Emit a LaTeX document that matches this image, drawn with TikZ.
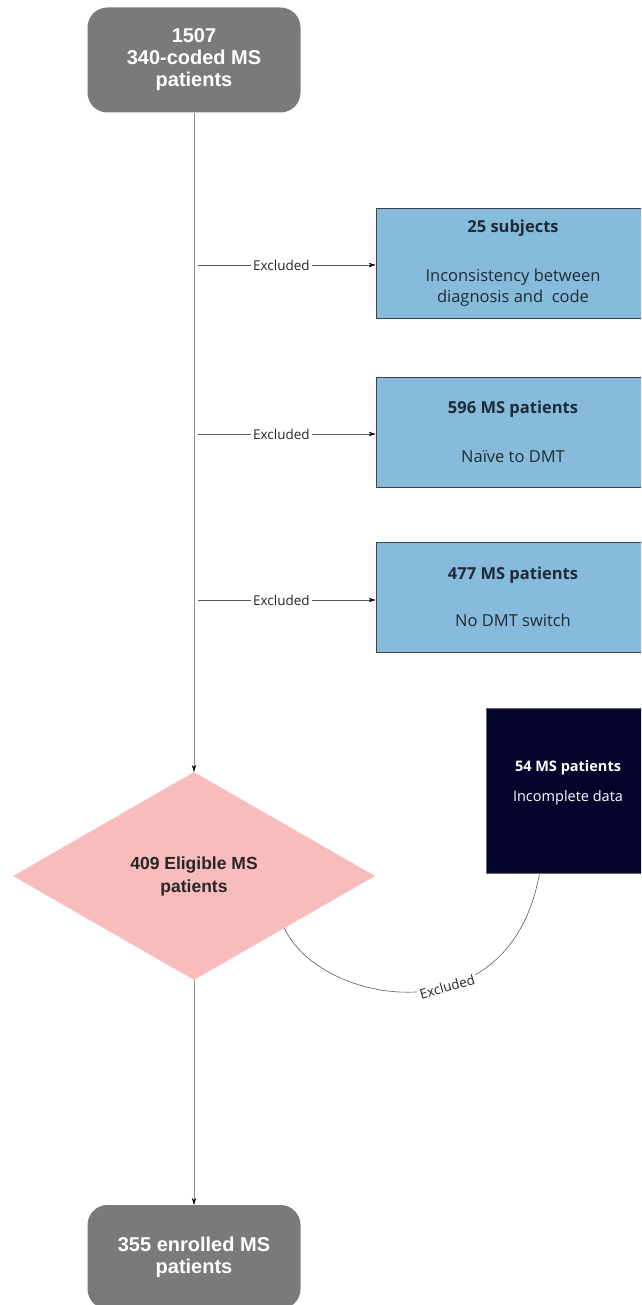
\documentclass[tikz,border=0pt]{standalone}
\usepackage{fontspec}
\setmainfont{Open Sans}
\newfontfamily\arialfont{Liberation Sans}
\usepackage{tikz}
\usetikzlibrary{arrows.meta,shapes.geometric}
\definecolor{boxgray}{HTML}{7A7A7A}
\definecolor{exblue}{HTML}{86BBDB}
\definecolor{exborder}{HTML}{3B4650}
\definecolor{eligpink}{HTML}{F8BCBD}
\definecolor{navybox}{HTML}{04042C}
\definecolor{flowline}{HTML}{8C8C8C}
\definecolor{txtdark}{HTML}{1E2B36}

\tikzset{
  graybox/.style={rectangle, rounded corners=20pt, fill=boxgray, text=white, align=center,
    minimum width=213pt, minimum height=105pt, inner sep=0pt,
    font=\arialfont\bfseries\fontsize{20}{22}\selectfont},
  bluebox/.style={rectangle, draw=exborder, line width=0.9pt, fill=exblue, text=txtdark,
    align=center, minimum width=274pt, minimum height=110pt, inner sep=0pt,
    font=\fontsize{16.5}{21}\selectfont},
  eligdia/.style={diamond, fill=eligpink, text=black!85, align=center, inner sep=0pt,
    minimum width=362pt, minimum height=208pt,
    font=\arialfont\bfseries\fontsize{17.5}{23}\selectfont},
  navyrect/.style={rectangle, fill=navybox, draw=black!60, line width=0.5pt,
    minimum width=164pt, minimum height=165pt},
  flow/.style={draw=flowline, line width=0.6pt, -{Stealth[length=7pt,width=4.5pt,black]}},
  exarrow/.style={draw=black!65, line width=0.6pt, -{Stealth[length=7pt,width=4.5pt,black]}},
  exlabel/.style={fill=white, inner sep=2pt, text=black!85, font=\fontsize{13.5}{15}\selectfont},
}

\begin{document}
\begin{tikzpicture}[x=1pt,y=1pt]
  \useasboundingbox (0,0) rectangle (641,-1305);
  \clip (0,0) rectangle (641,-1305);

  % Define nodes
  \node[graybox] (start) at (194,-60) {1507\\340-coded MS\\patients};
  \node[bluebox] (ex1) at (513,-263) {\textbf{25 subjects}\\[28pt]Inconsistency between\\diagnosis and\ \ code};
  \node[bluebox] (ex2) at (513,-432) {\textbf{596 MS patients}\\[28pt]Naïve to DMT};
  \node[bluebox] (ex3) at (513,-597) {\textbf{477 MS patients}\\[26pt]No DMT switch};
  \node[eligdia] (elig) at (194,-876) {409 Eligible MS\\patients};
  \node[navyrect, label={[name=navytext, yshift=8pt, text=white, align=center,
      font=\fontsize{14.5}{16}\selectfont]center:{\textbf{54 MS patients}\\[14pt]Incomplete data}}]
      (miss) at (568,-790.5) {};
  \node[graybox, minimum height=104pt] (final) at (194,-1257) {355 enrolled MS\\patients};

  \coordinate (e1) at (198,-265);
  \coordinate (e2) at (198,-434);
  \coordinate (e3) at (198,-600);

  % Draw edges
  \draw[flow] (start) -- (elig);
  \draw[flow] (elig) -- (final);
  \draw[exarrow] (e1) -- (e1 -| ex1.west) node[exlabel, pos=0.47] {Excluded};
  \draw[exarrow] (e2) -- (e2 -| ex2.west) node[exlabel, pos=0.47] {Excluded};
  \draw[exarrow] (e3) -- (e3 -| ex3.west) node[exlabel, pos=0.47] {Excluded};
  \draw[black!65, line width=0.6pt] (elig.-30) .. controls (320,-1005) and (510,-1040) .. (miss.-109)
    node[exlabel, sloped, pos=0.6] {Excluded};
\end{tikzpicture}
\end{document}
